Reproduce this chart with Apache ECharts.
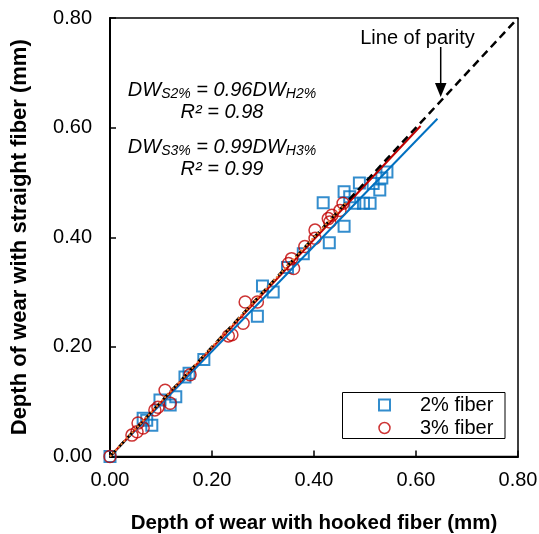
<!DOCTYPE html>
<html><head><meta charset="utf-8">
<script src="https://cdn.jsdelivr.net/npm/echarts@6/dist/echarts.min.js"></script>
<style>html,body{margin:0;padding:0;background:#fff}#c{width:539px;height:534px}</style>
</head><body><div id="c"></div>
<script>
// ---- data ----
const axisTicks = [0, 0.2, 0.4, 0.6, 0.8];
const fiber2Hooked   = [0, 0.065, 0.072, 0.082, 0.098, 0.118, 0.129, 0.147, 0.155, 0.184, 0.289, 0.299, 0.320, 0.348, 0.379, 0.430, 0.459, 0.418, 0.459, 0.480, 0.497, 0.510, 0.489, 0.470, 0.516, 0.529, 0.533, 0.543];
const fiber2Straight = [0, 0.070, 0.066, 0.057, 0.103, 0.094, 0.109, 0.145, 0.152, 0.177, 0.256, 0.311, 0.300, 0.345, 0.370, 0.390, 0.420, 0.463, 0.483, 0.462, 0.462, 0.462, 0.499, 0.474, 0.498, 0.486, 0.508, 0.519];
const fiber3Hooked   = [0, 0.043, 0.053, 0.065, 0.055, 0.088, 0.094, 0.108, 0.118, 0.157, 0.232, 0.239, 0.261, 0.265, 0.289, 0.350, 0.356, 0.360, 0.382, 0.402, 0.402, 0.428, 0.431, 0.435, 0.451, 0.457];
const fiber3Straight = [0, 0.039, 0.045, 0.052, 0.061, 0.085, 0.090, 0.121, 0.097, 0.149, 0.220, 0.222, 0.243, 0.282, 0.282, 0.352, 0.361, 0.343, 0.383, 0.398, 0.413, 0.434, 0.428, 0.440, 0.449, 0.462];
const slope2 = 0.96, slope3 = 0.99;
const trend2X = [0, 0.642];
const trend3X = [0, 0.609];
const parityX = [0, 0.8];
const orangeX = [0, 0.465];
const seriesNames = ['2% fiber', '3% fiber'];

// ---- build ----
const FF = 'Liberation Sans, Arial, sans-serif';
const BLUE = '#0070C0', RED = '#C00000';
const zip = (a, b) => a.map((v, i) => [v, b[i]]);
const lineFrom = (xs, k) => xs.map(x => [x, x * k]);

const chart = echarts.init(document.getElementById('c'), null, {renderer: 'canvas'});
const axisCommon = {
  type: 'value', min: 0, max: 0.8, interval: 0.2,
  axisLine: {show: true, onZero: false, lineStyle: {color: '#000', width: 2}},
  axisTick: {show: true, inside: true, length: 6, lineStyle: {color: '#000', width: 1.5}},
  splitLine: {show: false},
  nameLocation: 'middle'
};
const subRich = {
  m: {fontFamily: FF, fontStyle: 'italic', fontSize: 20, lineHeight: 22, fill: '#000'},
  s: {fontFamily: FF, fontStyle: 'italic', fontSize: 14, lineHeight: 2, verticalAlign: 'bottom', fill: '#000'}
};
chart.setOption({
  backgroundColor: '#fff',
  animation: false,
  grid: {left: 110, right: 21, top: 18, bottom: 77.5, outerBoundsMode: 'none', containLabel: false,
         show: true, borderColor: '#000', borderWidth: 1.5, backgroundColor: 'transparent'},
  xAxis: Object.assign({}, axisCommon, {
    name: 'Depth of wear with hooked fiber (mm)', nameGap: 56,
    nameTextStyle: {fontFamily: FF, fontWeight: 'bold', fontSize: 20.5, color: '#000'},
    axisLabel: {formatter: v => v.toFixed(2), fontFamily: FF, fontSize: 20, color: '#000', margin: 14, showMinLabel: true, showMaxLabel: true}
  }),
  yAxis: Object.assign({}, axisCommon, {
    name: 'Depth of wear with straight fiber (mm)', nameGap: 79,
    nameTextStyle: {fontFamily: FF, fontWeight: 'bold', fontSize: 22, color: '#000'},
    axisLabel: {formatter: v => v.toFixed(2), fontFamily: FF, fontSize: 20, color: '#000', margin: 18, showMinLabel: true, showMaxLabel: true}
  }),
  legend: {
    orient: 'vertical', left: 373, top: 390, itemGap: 3, itemWidth: 11, itemHeight: 11, z: 10,
    textStyle: {fontFamily: FF, fontSize: 20, color: '#000', padding: [0, 0, 0, 25]},
    data: [
      {name: seriesNames[0], icon: 'rect', itemStyle: {color: 'rgba(0,0,0,0)', borderColor: BLUE, borderWidth: 2}},
      {name: seriesNames[1], icon: 'circle', itemStyle: {color: 'rgba(0,0,0,0)', borderColor: RED, borderWidth: 1.5}}
    ]
  },
  graphic: [
    {type: 'rect', z: 1, shape: {x: 342.5, y: 392.5, width: 162.5, height: 46}, style: {fill: '#fff', stroke: '#000', lineWidth: 1}},
    {type: 'text', x: 417.5, y: 38.5, style: {text: 'Line of parity', fontFamily: FF, fontSize: 20, fill: '#000', align: 'center', verticalAlign: 'middle'}},
    {type: 'line', shape: {x1: 440.7, y1: 47, x2: 440.7, y2: 86}, style: {stroke: '#000', lineWidth: 1.5}},
    {type: 'polygon', shape: {points: [[435, 83], [446.5, 83], [440.7, 97]]}, style: {fill: '#000'}},
    {type: 'text', x: 222, y: 79, style: {
      text: '{m|DW}{s|S2%}{m| = 0.96DW}{s|H2%}\n{m|R² = 0.98}', align: 'center', verticalAlign: 'top', rich: subRich}},
    {type: 'text', x: 222, y: 136, style: {
      text: '{m|DW}{s|S3%}{m| = 0.99DW}{s|H3%}\n{m|R² = 0.99}', align: 'center', verticalAlign: 'top', rich: subRich}}
  ],
  series: [
    {name: seriesNames[0], type: 'scatter', symbol: 'rect', symbolSize: 11, data: zip(fiber2Hooked, fiber2Straight),
     itemStyle: {color: 'rgba(0,0,0,0)', borderColor: BLUE, borderWidth: 2}, z: 2},
    {name: seriesNames[1], type: 'scatter', symbol: 'circle', symbolSize: 12, data: zip(fiber3Hooked, fiber3Straight),
     itemStyle: {color: 'rgba(0,0,0,0)', borderColor: RED, borderWidth: 1.5}, z: 3},
    {name: 'trend2', type: 'line', data: lineFrom(trend2X, slope2), symbol: 'none', lineStyle: {color: BLUE, width: 2}, z: 4},
    {name: 'trend3', type: 'line', data: lineFrom(trend3X, slope3), symbol: 'none', lineStyle: {color: RED, width: 2}, z: 5},
    {name: 'parity', type: 'line', data: lineFrom(parityX, 1), symbol: 'none', lineStyle: {color: '#000', width: 2.5, type: [8, 5]}, z: 6},
    {name: 'orange', type: 'line', data: lineFrom(orangeX, 1), symbol: 'none', lineStyle: {color: '#ED7D31', width: 2, type: 'dotted'}, z: 7}
  ]
});
</script></body></html>
